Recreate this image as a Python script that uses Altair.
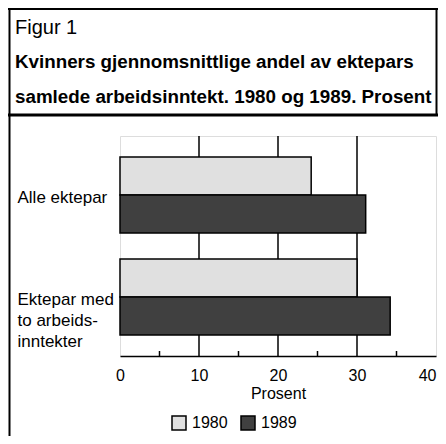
import altair as alt
import pandas as pd

# ---- data ----
groups = ["Alle ektepar", "Ektepar med|to arbeids-|inntekter"]
years = ["1980", "1989"]
values_1980 = [24.2, 30.0]
values_1989 = [31.1, 34.2]
x_ticks = [0, 10, 20, 30, 40]
grid_values = [10, 20, 30]
minor_ticks = [5, 15, 25, 35]

title_top = "Figur 1"
title_lines = [
    "Kvinners gjennomsnittlige andel av ektepars",
    "samlede arbeidsinntekt. 1980 og 1989. Prosent",
]
x_title = "Prosent"

rows = []
for g, a, b in zip(groups, values_1980, values_1989):
    rows.append({"gruppe": g, "aar": years[0], "prosent": a})
    rows.append({"gruppe": g, "aar": years[1], "prosent": b})
df = pd.DataFrame(rows)

# ---- layout ----
W, H = 316, 220
PAD_L, PAD_T = 112, 128
SANS = "'Liberation Sans', Arial, sans-serif"

xscale = alt.Scale(domain=[0, 40], nice=False, zero=True)
yscale = alt.Scale(paddingInner=0.255, paddingOuter=0.206)

one = pd.DataFrame({"d": [0]})


def hline(x1, x2, y, w):
    return alt.Chart(one).mark_rule(color="black", strokeWidth=w, strokeCap="square").encode(
        x=alt.value(x1), x2=alt.value(x2), y=alt.value(y)
    )


def vline(x, y1, y2, w):
    return alt.Chart(one).mark_rule(color="black", strokeWidth=w, strokeCap="square").encode(
        x=alt.value(x), y=alt.value(y1), y2=alt.value(y2)
    )


def title_text(txt, y, size, weight):
    return alt.Chart(pd.DataFrame({"t": [txt]})).mark_text(
        align="left", baseline="alphabetic", font=SANS, fontSize=size,
        fontWeight=weight, color="black"
    ).encode(x=alt.value(-105), y=alt.value(y), text="t:N")


frame = [
    hline(-PAD_L + 1, 430 - PAD_L - 1, -PAD_T + 1, 2),
    vline(-PAD_L + 1.5, -PAD_T + 1, 428 - PAD_T, 2),
    vline(430 - PAD_L - 1.5, -PAD_T + 1, -21, 2),
    hline(-PAD_L + 1, 430 - PAD_L - 1, -21, 3),
]

titles = [
    title_text(title_top, -102, 20, "normal"),
    title_text(title_lines[0], -68, 18.8, "bold"),
    title_text(title_lines[1], -33, 18.8, "bold"),
]

grid = alt.Chart(pd.DataFrame({"prosent": grid_values})).mark_rule(
    color="black", strokeWidth=1.5
).encode(x=alt.X("prosent:Q", scale=xscale))

minor = alt.Chart(pd.DataFrame({"prosent": minor_ticks})).mark_rule(
    color="black", strokeWidth=1.5
).encode(x=alt.X("prosent:Q", scale=xscale), y=alt.value(H - 5), y2=alt.value(H))

bars = alt.Chart(df).mark_bar(stroke="black", strokeWidth=1.5, opacity=1).encode(
    x=alt.X(
        "prosent:Q",
        scale=xscale,
        axis=alt.Axis(
            values=x_ticks,
            ticks=False,
            grid=False,
            domainColor="black",
            domainWidth=1.5,
            labelFontSize=16,
            labelFont=SANS,
            labelColor="black",
            labelPadding=11,
            labelAlign={"condition": {"test": "datum.value == 40", "value": "right"}, "value": "center"},
            title=x_title,
            titleFont=SANS,
            titleFontSize=16,
            titleFontWeight="normal",
            titleColor="black",
            titlePadding=2,
        ),
    ),
    y=alt.Y(
        "gruppe:N",
        sort=groups,
        scale=yscale,
        axis=alt.Axis(
            title=None,
            ticks=False,
            domain=False,
            labelAlign="left",
            labelBaseline="middle",
            labelPadding=103,
            labelFontSize=17,
            labelFont=SANS,
            labelColor="black",
            labelExpr="split(datum.label, '|')",
            labelLineHeight=21,
            labelOffset=3,
        ),
    ),
    yOffset=alt.YOffset("aar:N", sort=years),
    color=alt.Color(
        "aar:N",
        scale=alt.Scale(domain=years, range=["#e0e0e0", "#404040"]),
        legend=alt.Legend(
            title=None,
            orient="none",
            direction="horizontal",
            legendX=51,
            legendY=279,
            symbolType="square",
            symbolSize=196,
            symbolStrokeColor="black",
            symbolStrokeWidth=1.5,
            symbolOpacity=1,
            labelFont=SANS,
            labelFontSize=16,
            labelColor="black",
            labelOffset=5,
            columnPadding=10,
        ),
    ),
)

chart = alt.layer(*frame, *titles, grid, bars, minor).properties(
    width=W,
    height=H,
    padding={"left": PAD_L, "top": PAD_T, "right": 430 - PAD_L - W, "bottom": 428 - PAD_T - H},
    autosize=alt.AutoSizeParams(type="none"),
).configure_view(strokeWidth=0).configure(background="white")

chart.save("out.html", embed_options={"renderer": "svg", "actions": False})
